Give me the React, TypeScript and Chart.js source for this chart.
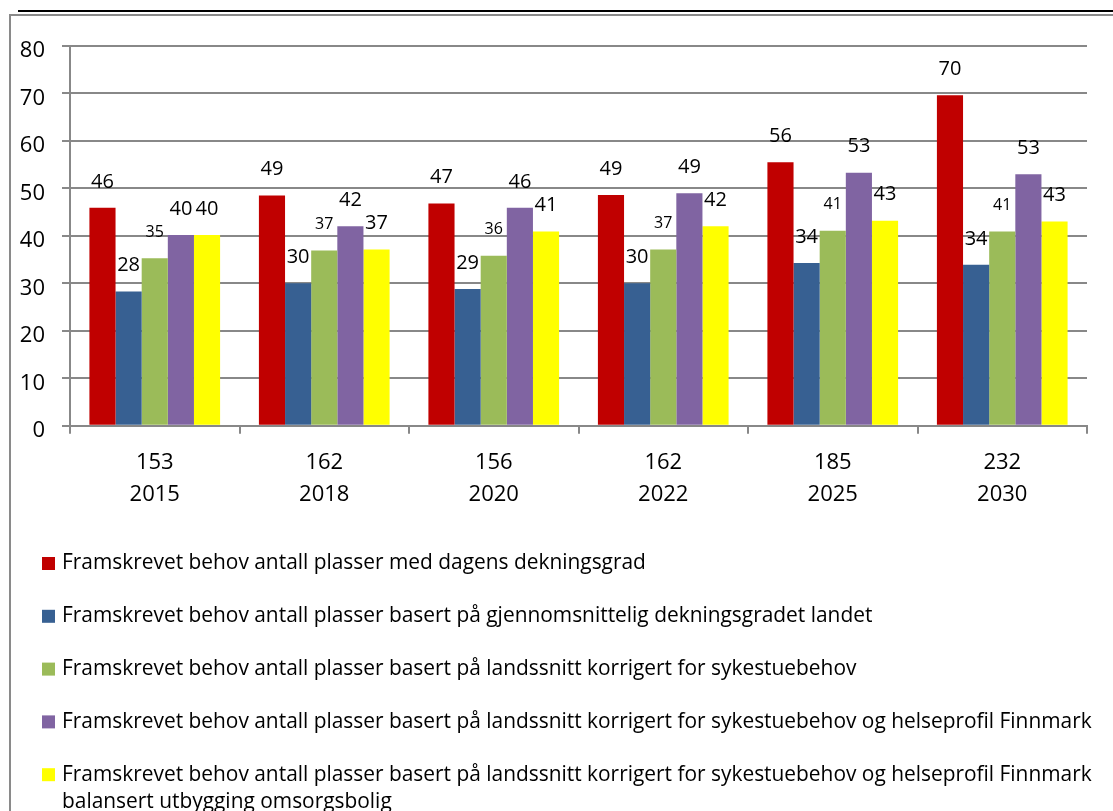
import React, { useEffect, useRef } from "react";
import { Chart, registerables } from "chart.js";

Chart.register(...registerables);

const categories = ["2015", "2018", "2020", "2022", "2025", "2030"];
const totals = ["153", "162", "156", "162", "185", "232"];

const seriesNames = [
  "Framskrevet behov antall plasser med dagens dekningsgrad",
  "Framskrevet behov antall plasser basert på gjennomsnittelig dekningsgradet landet",
  "Framskrevet behov antall plasser basert på landssnitt korrigert for sykestuebehov",
  "Framskrevet behov antall plasser basert på landssnitt korrigert for sykestuebehov og helseprofil Finnmark",
  "Framskrevet behov antall plasser basert på landssnitt korrigert for sykestuebehov og helseprofil Finnmark balansert utbygging omsorgsbolig",
];

const dagens = [45.9, 48.5, 46.8, 48.6, 55.5, 69.6];
const gjennomsnitt = [28.3, 30.0, 28.8, 30.0, 34.3, 33.9];
const sykestue = [35.3, 36.9, 35.8, 37.1, 41.1, 40.9];
const helseprofil = [40.2, 42.0, 45.9, 49.0, 53.3, 53.0];
const omsorgsbolig = [40.2, 37.1, 40.9, 42.0, 43.2, 43.0];

const seriesColors = ["#C00000", "#376092", "#9BBB59", "#8064A2", "#FFFF00"];

const FONT = "'Open Sans', 'Liberation Sans', sans-serif";

const valueLabelPlugin = {
  id: "valueLabels",
  afterDatasetsDraw(chart: any) {
    const ctx = chart.ctx;
    chart.data.datasets.forEach((ds: any, i: number) => {
      const meta = chart.getDatasetMeta(i);
      meta.data.forEach((el: any, j: number) => {
        const v = ds.data[j];
        ctx.save();
        ctx.font = `${i === 2 ? 16 : 20}px ${FONT}`;
        ctx.fillStyle = "#000";
        ctx.textAlign = "center";
        ctx.textBaseline = "middle";
        ctx.fillText(String(Math.round(v)), el.x, el.y - 26);
        ctx.restore();
      });
    });
  },
};

function wrapText(ctx: CanvasRenderingContext2D, text: string, maxWidth: number): string[] {
  const words = text.split(" ");
  const lines: string[] = [];
  let cur = "";
  for (const w of words) {
    const test = cur ? cur + " " + w : w;
    if (ctx.measureText(test).width > maxWidth && cur) {
      lines.push(cur);
      cur = w;
    } else {
      cur = test;
    }
  }
  if (cur) lines.push(cur);
  return lines;
}

const legendPlugin = {
  id: "customLegend",
  afterDraw(chart: any) {
    const ctx: CanvasRenderingContext2D = chart.ctx;
    const startY = 563.5;
    const gap = 52.8;
    const lineGap = 27;
    const markerX = 42;
    const textX = 62;
    ctx.save();
    ctx.font = `20.9px ${FONT}`;
    ctx.textBaseline = "middle";
    ctx.textAlign = "left";
    chart.data.datasets.forEach((ds: any, i: number) => {
      const y = startY + i * gap;
      ctx.fillStyle = ds.backgroundColor;
      ctx.fillRect(markerX, y - 6.5, 13, 13);
      ctx.fillStyle = "#000";
      const lines = wrapText(ctx, ds.label, chart.width - textX - 4);
      lines.forEach((ln, k) => ctx.fillText(ln, textX, y + k * lineGap));
    });
    ctx.restore();
  },
};

export default function App() {
  const canvasRef = useRef<HTMLCanvasElement | null>(null);

  useEffect(() => {
    if (!canvasRef.current) return;
    const seriesData = [dagens, gjennomsnitt, sykestue, helseprofil, omsorgsbolig];
    const chart = new Chart(canvasRef.current, {
      type: "bar",
      data: {
        labels: categories,
        datasets: seriesData.map((d, i) => ({
          label: seriesNames[i],
          data: d,
          backgroundColor: seriesColors[i],
          borderWidth: 0,
          categoryPercentage: 0.771,
          barPercentage: 1.0,
        })),
      },
      options: {
        responsive: false,
        animation: false,
        devicePixelRatio: 1,
        layout: { padding: { left: 0, top: 46, right: 26, bottom: 285.3 } },
        plugins: {
          legend: { display: false },
          tooltip: { enabled: false },
        },
        scales: {
          x: {
            grid: {
              display: true,
              drawOnChartArea: false,
              drawTicks: true,
              tickLength: 8,
              color: "#888888",
              lineWidth: 2,
              offset: true,
            },
            border: { display: true, color: "#888888", width: 2 },
            ticks: {
              color: "#000",
              font: { family: FONT, size: 22, lineHeight: 1.4545 },
              padding: 13,
              maxRotation: 0,
              autoSkip: false,
              callback: (_v: any, i: number) => [totals[i], categories[i]],
            },
            afterFit: (s: any) => {
              s.height = 100;
            },
          },
          y: {
            min: 0,
            max: 80,
            ticks: {
              stepSize: 10,
              color: "#000",
              font: { family: FONT, size: 22 },
              padding: 17,
              labelOffset: 5,
            },
            grid: { color: "#888888", lineWidth: 2, tickLength: 8 },
            border: { display: true, color: "#888888", width: 2 },
            afterFit: (s: any) => {
              s.width = 70;
            },
          },
        },
      },
      plugins: [valueLabelPlugin, legendPlugin],
    } as any);
    return () => chart.destroy();
  }, []);

  return (
    <div
      style={{
        position: "fixed",
        left: 0,
        top: 0,
        width: 1113,
        height: 811,
        overflow: "hidden",
        background: "#fff",
      }}
    >
      <div
        style={{
          position: "absolute",
          left: 18,
          top: 10,
          width: 1200,
          height: 2,
          background: "#000",
        }}
      />
      <div
        style={{
          position: "absolute",
          left: 9,
          top: 14,
          width: 1200,
          height: 900,
          borderLeft: "2px solid #8a8a8a",
          borderTop: "2px solid #8a8a8a",
        }}
      />
      <canvas
        ref={canvasRef}
        width={1113}
        height={811}
        style={{ position: "absolute", left: 0, top: 0, width: 1113, height: 811 }}
      />
    </div>
  );
}
